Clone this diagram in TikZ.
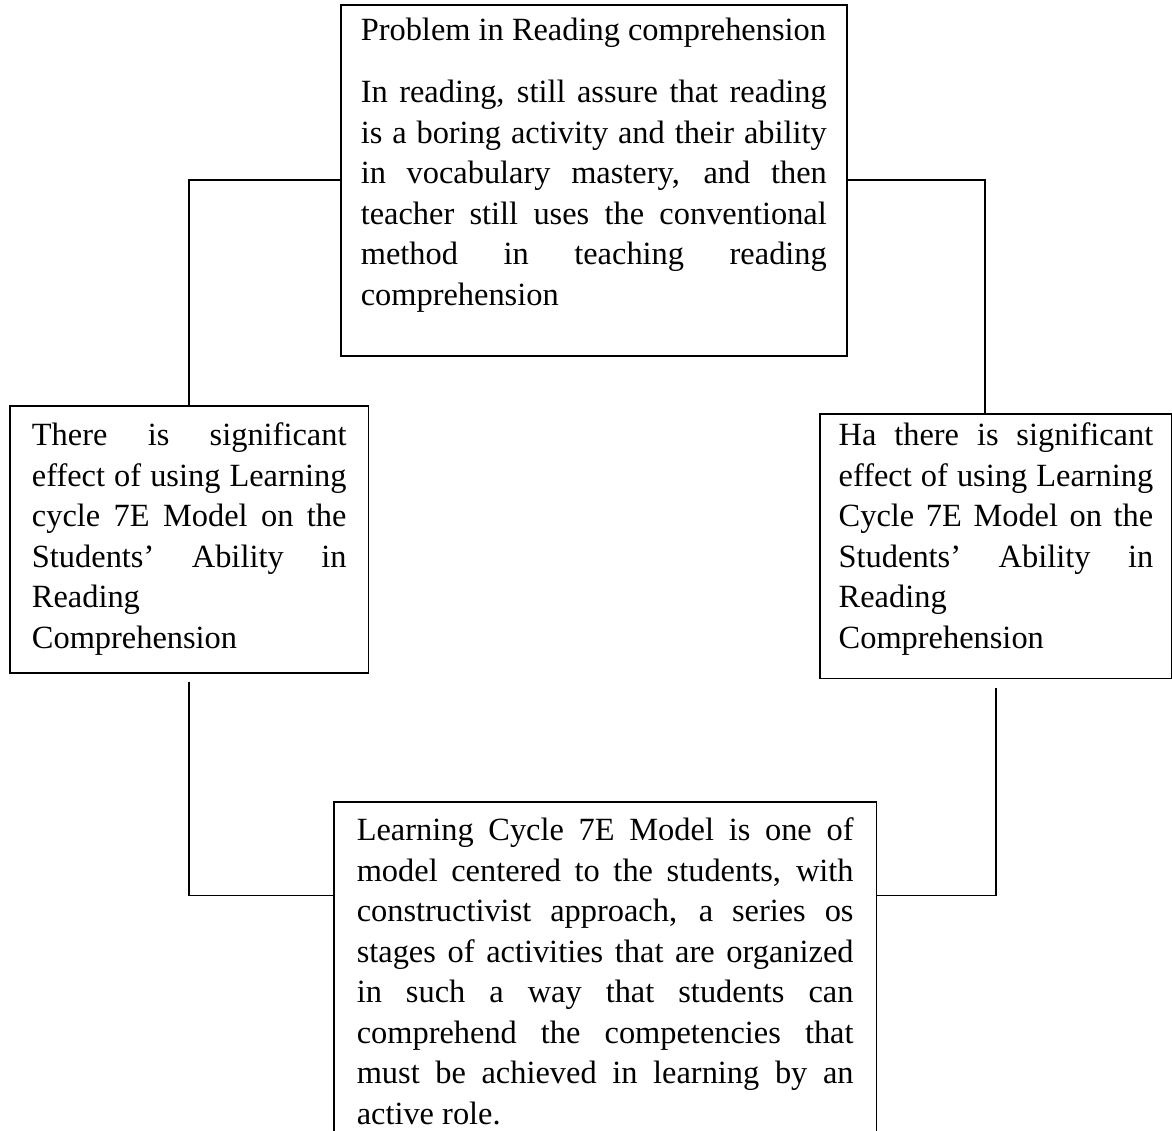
\documentclass[tikz,border=0pt]{standalone}
\usepackage{fontspec}
\setmainfont{Liberation Serif}

\begin{document}
\begin{tikzpicture}[x=0.37037pt, y=-0.37037pt]
    \useasboundingbox (0,0) rectangle (1172,1131);
    \clip (0,0) rectangle (1172,1131);
    \tikzset{BoxStyle/.style = {draw, line width=0.6pt, inner ysep=0pt, anchor=north west, font=\fontsize{12}{15}\selectfont}}
    \tikzset{LinkStyle/.style = {line width=0.6pt}}
    \node[BoxStyle, inner xsep=7.4pt] (prob) at (340,4) {\parbox[c][130pt][t]{172.6pt}{\rule{0pt}{13.3pt}Problem in Reading comprehension\par\vspace{8pt}
        In reading, still assure that reading\linebreak
        is a boring activity and their ability\linebreak
        in vocabulary mastery, and then\linebreak
        teacher still uses the conventional\linebreak
        method in teaching reading\linebreak
        comprehension}};
    \node[BoxStyle, inner xsep=8.2pt] (concl) at (9,405) {\parbox[c][98.9pt][t]{116.5pt}{\rule{0pt}{14.8pt}There is significant\linebreak
        effect of using Learning\linebreak
        cycle 7E Model on the\linebreak
        Students’ Ability in\linebreak
        Reading\\
        Comprehension}};
    \node[BoxStyle, inner xsep=7pt] (hypo) at (819,413) {\parbox[c][98.1pt][t]{116.5pt}{\rule{0pt}{11.9pt}Ha there is significant\linebreak
        effect of using Learning\linebreak
        Cycle 7E Model on the\linebreak
        Students’ Ability in\linebreak
        Reading\\
        Comprehension}};
    \node[BoxStyle, inner xsep=8.5pt] (model) at (333,801) {\parbox[c][133pt][t]{184pt}{\rule{0pt}{14.4pt}Learning Cycle 7E Model is one of\linebreak
        model centered to the students, with\linebreak
        constructivist approach, a series os\linebreak
        stages of activities that are organized\linebreak
        in such a way that students can\linebreak
        comprehend the competencies that\linebreak
        must be achieved in learning by an\linebreak
        active role.}};
    \draw[LinkStyle] (prob.west) -| (concl.north);
    \draw[LinkStyle] (prob.east) -| ([xshift=-4pt]hypo.north);
    \draw[LinkStyle, shorten <=3pt] (concl.south) |- ([yshift=-35pt]model.north west);
    \draw[LinkStyle, shorten <=3pt] (hypo.south) |- ([yshift=-35pt]model.north east);
\end{tikzpicture}
\end{document}
